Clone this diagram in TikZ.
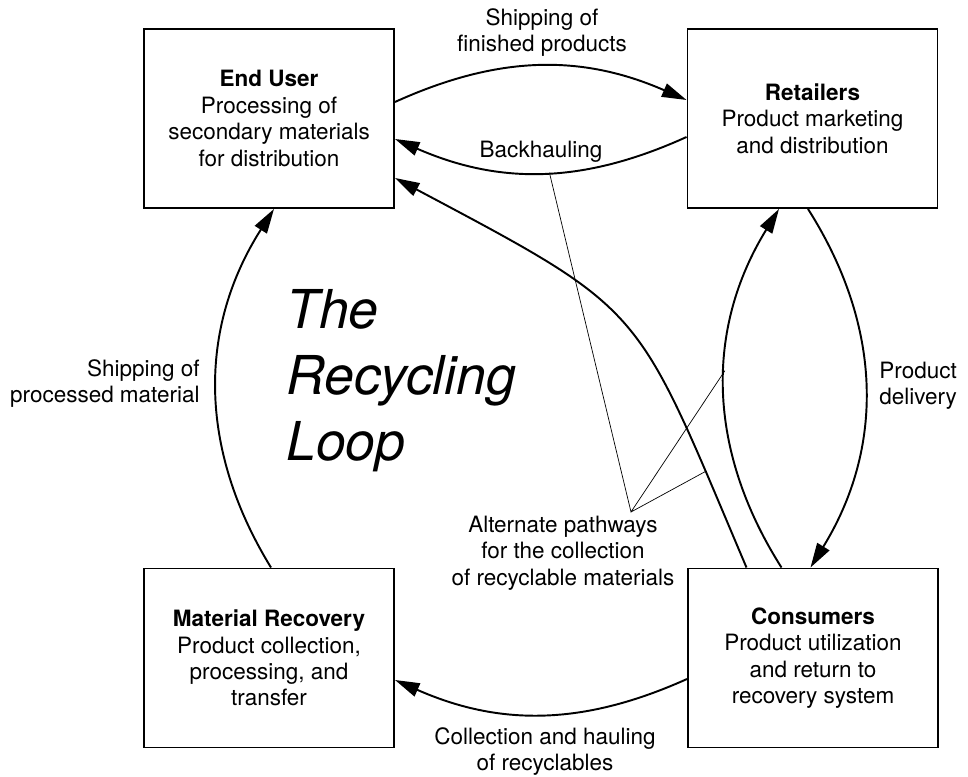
\documentclass[tikz,border=0pt]{standalone}
\usepackage{fontspec}
\setmainfont{TeX Gyre Heros}
\usetikzlibrary{arrows.meta}

\begin{document}
\begin{tikzpicture}[
    stage/.style={draw, line width=1.1pt, minimum width=5cm, minimum height=3.58cm,
      align=center, inner sep=0pt, font=\fontsize{12.8}{15}\selectfont},
    flow/.style={line width=1.1pt, -{Triangle[length=14pt, width=8pt]}},
    leader/.style={line width=0.4pt},
    lbl/.style={align=center, inner sep=0pt, font=\fontsize{12.8}{15}\selectfont}
  ]
  \useasboundingbox (0,0) rectangle (19.36,-15.54);

  % the four stages
  \node [stage] (eu) at (5.38,-2.37) {\textbf{End User}\\Processing of\\secondary materials\\for distribution};
  \node [stage] (ret) at (16.25,-2.37) {\textbf{Retailers}\\Product marketing\\and distribution};
  \node [stage] (mr) at (5.38,-13.16) {\textbf{Material Recovery}\\Product collection,\\processing, and\\transfer};
  \node [stage] (con) at (16.26,-13.16) {\textbf{Consumers}\\Product utilization\\and return to\\recovery system};

  % flows between stages
  \draw [flow] ([yshift=0.33cm]eu.east) to[bend left=24] ([yshift=0.37cm]ret.west);
  \draw [flow] ([yshift=-0.37cm]ret.west) to[bend left=24] coordinate[pos=0.47] (bh) ([yshift=-0.41cm]eu.east);
  \draw [flow] ([xshift=-0.09cm]ret.south) to[bend left=32] ([xshift=-0.05cm]con.north);
  \draw [flow] ([xshift=-0.63cm]con.north) to[bend left=32] coordinate[pos=0.55] (alt) ([xshift=-0.67cm]ret.south);
  \draw [flow] ([xshift=-1.33cm]con.north) to[out=113, in=-28, looseness=1.4] coordinate[pos=0.14] (lng) ([yshift=-1.19cm]eu.east);
  \draw [flow] ([yshift=-0.42cm]con.west) to[bend left=24] ([yshift=-0.44cm]mr.east);
  \draw [flow] ([xshift=0.04cm]mr.north) to[bend left=32] ([xshift=0.1cm]eu.south);

  % leaders to the alternate pathways
  \coordinate (hub) at (12.62,-10.24);
  \draw [leader] (bh) -- (hub) -- (alt) (hub) -- (lng);

  % labels
  \node [lbl] (shipfin) at (10.84,-0.65) {Shipping of\\finished products};
  \node [lbl] (backh) at (10.82,-3.04) {Backhauling};
  \node [lbl, anchor=east, align=right] (shipproc) at (4.0,-7.67) {Shipping of\\processed material};
  \node [lbl, anchor=west, align=left] (deliv) at (17.58,-7.72) {Product\\delivery};
  \node [lbl] (alttxt) at (11.26,-11.06) {Alternate pathways\\for the collection\\of recyclable materials};
  \node [lbl] (haul) at (10.9,-15.03) {Collection and hauling\\of recyclables};
  \node [anchor=north west, align=left, inner sep=0pt, font=\itshape\fontsize{30.5}{37.5}\selectfont] (title) at (5.72,-5.78) {The\\Recycling\\Loop};
\end{tikzpicture}
\end{document}
